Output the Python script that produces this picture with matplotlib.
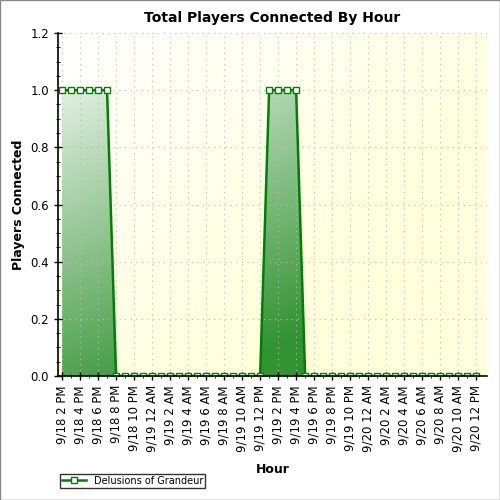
import numpy as np
import matplotlib.pyplot as plt
from matplotlib.patches import Polygon

# hourly samples starting 9/18 2 PM
hours = list(range(0, 47))
players = [1, 1, 1, 1, 1, 1] + [0] * 17 + [1, 1, 1, 1] + [0] * 20
tick_labels = ["9/18 2 PM", "9/18 4 PM", "9/18 6 PM", "9/18 8 PM", "9/18 10 PM",
               "9/19 12 AM", "9/19 2 AM", "9/19 4 AM", "9/19 6 AM", "9/19 8 AM",
               "9/19 10 AM", "9/19 12 PM", "9/19 2 PM", "9/19 4 PM", "9/19 6 PM",
               "9/19 8 PM", "9/19 10 PM", "9/20 12 AM", "9/20 2 AM", "9/20 4 AM",
               "9/20 6 AM", "9/20 8 AM", "9/20 10 AM", "9/20 12 PM"]

green = "#008000"
fig = plt.figure(figsize=(5, 5), dpi=100)
ax = fig.add_axes([0.116, 0.248, 0.858, 0.686])
xmin, xmax, ymin, ymax = -0.45, 47.2, 0, 1.2
ax.set_xlim(xmin, xmax)
ax.set_ylim(ymin, ymax)

# background gradient white -> pale yellow
gx, gy = np.meshgrid(np.linspace(0, 1, 200), np.linspace(0, 1, 200))
t = np.clip((gx + (1 - gy)) / 1.4, 0, 1)
bg = np.ones((200, 200, 3))
bg[..., 2] = 1 - 0.14 * t
ax.imshow(bg, extent=[xmin, xmax, ymin, ymax], origin="lower", aspect="auto", zorder=0)

# area fill gradient white -> green
ft = np.clip((gx * 0.6 + (1 - gy) * 1.1) / 1.3, 0, 1)
fill = np.zeros((200, 200, 4))
fill[..., 0] = 1 - 0.8 * ft
fill[..., 1] = 1 - 0.42 * ft
fill[..., 2] = 1 - 0.8 * ft
fill[..., 3] = 1
im = ax.imshow(fill, extent=[xmin, xmax, ymin, ymax], origin="lower", aspect="auto", zorder=1)
poly = Polygon(list(zip(hours, players)) + [(hours[-1], 0), (hours[0], 0)], closed=True,
               transform=ax.transData, facecolor="none", edgecolor="none")
ax.add_patch(poly)
im.set_clip_path(poly)

ax.plot(hours, players, color=green, lw=1.8, marker="s", ms=5, mfc="white", mec=green,
        mew=1, zorder=3, clip_on=True, label="Delusions of Grandeur")

ax.set_xticks(hours[::2])
ax.set_xticklabels(tick_labels, rotation=90, fontsize=8.5)
ax.set_xticks(hours, minor=True)
ax.set_yticks(np.arange(0, 1.21, 0.2))
ax.set_yticks(np.arange(0, 1.21, 0.05), minor=True)
ax.set_yticklabels(["0.0", "0.2", "0.4", "0.6", "0.8", "1.0", "1.2"], fontsize=8.5)
ax.tick_params(direction="inout", length=6, width=1)
ax.tick_params(which="minor", direction="inout", length=3)
ax.grid(True, color="#bbbbbb", linestyle=(0, (1, 4)), lw=0.8, zorder=2)
ax.set_axisbelow(False)
for s in ["top", "right"]:
    ax.spines[s].set_visible(False)
ax.spines["left"].set_linewidth(1.2)
ax.spines["bottom"].set_linewidth(1.2)
ax.spines["bottom"].set_zorder(4)

ax.set_title("Total Players Connected By Hour", fontsize=10, fontweight="bold", pad=8)
ax.set_xlabel("Hour", fontsize=9, fontweight="bold", labelpad=8)
ax.set_ylabel("Players Connected", fontsize=9, fontweight="bold")
fig.legend(loc="lower left", bbox_to_anchor=(0.11, 0.015), fontsize=7, frameon=True,
           fancybox=False, edgecolor="black", borderpad=0.2, handlelength=2.5)
fig.patches.append(plt.Rectangle((0, 0), 1, 1, transform=fig.transFigure, fill=False,
                                 edgecolor="#888888", lw=1))
fig.savefig("out.png")
